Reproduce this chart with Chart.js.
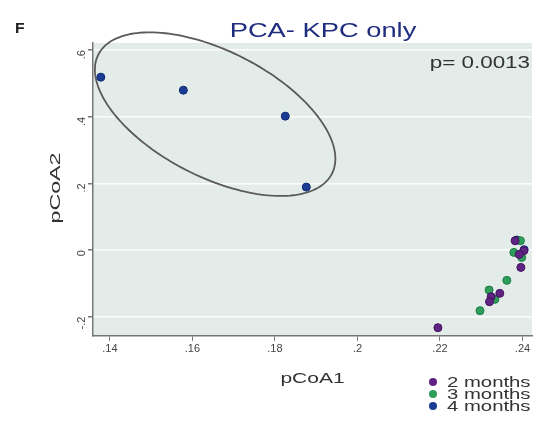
<!DOCTYPE html>
<html>
<head>
<meta charset="utf-8">
<title>PCA- KPC only</title>
<script src="https://cdn.jsdelivr.net/npm/chart.js@4.4.1/dist/chart.umd.min.js"></script>
<style>
  html, body { margin: 0; padding: 0; background: #fff; }
  #wrap { width: 537px; height: 426px; }
</style>
</head>
<body>
<div id="wrap"><canvas id="pca" width="537" height="426"></canvas></div>
<script>
// sample coordinates (pCoA1, pCoA2) by time point
var twoMonths = [
  [0.2382, 0.028], [0.2403, -0.002], [0.2392, -0.013], [0.2396, -0.052],
  [0.2345, -0.130], [0.2324, -0.140], [0.2320, -0.155], [0.2195, -0.233]
];
var threeMonths = [
  [0.2395, 0.028], [0.2379, -0.007], [0.2398, -0.022], [0.2362, -0.091],
  [0.2319, -0.120], [0.2333, -0.148], [0.2297, -0.182]
];
var fourMonths = [
  [0.1378, 0.519], [0.1578, 0.480], [0.1825, 0.402], [0.1876, 0.189],
  [0.2386, 0.030], [0.2404, 0.001]
];

var seriesNames = ["2 months", "3 months", "4 months"];
var xTicks = [0.14, 0.16, 0.18, 0.20, 0.22, 0.24];
var yTicks = [-0.2, 0, 0.2, 0.4, 0.6];
var pValue = "p= 0.0013";

// confidence ellipse around the 4 month group: centre and two semi-axis vectors (data units)
var ellipseCenter = [0.1655, 0.408];
var ellipseAxisA = [0.02834, -0.1781];
var ellipseAxisB = [-0.0068, -0.1691];

var colors = ["#5e2383", "#2e9e5b", "#1b3c94"];
var borders = ["#43125f", "#1f7a42", "#112a70"];

function toPoints(arr) {
  return arr.map(function(p) { return { x: p[0], y: p[1] }; });
}

// Stata style labels: .14, -.2, 0
function fmt(v) {
  if (v === 0) return "0";
  var s = String(+v.toFixed(2));
  return s.replace(/^(-?)0\./, "$1.");
}

function wideText(ctx, text, x, y, sx, align) {
  ctx.save();
  ctx.translate(x, y);
  ctx.scale(sx, 1);
  ctx.textAlign = align;
  ctx.fillText(text, 0, 0);
  ctx.restore();
}

var plotBackground = {
  id: "plotBackground",
  beforeDraw: function(chart) {
    var ctx = chart.ctx, a = chart.chartArea;
    ctx.save();
    ctx.fillStyle = "#ffffff";
    ctx.fillRect(0, 0, chart.width, chart.height);
    ctx.fillStyle = "#e4ecea";
    ctx.fillRect(a.left, a.top, a.right - a.left, a.bottom - a.top);
    ctx.restore();
  }
};

var ellipsePlugin = {
  id: "ellipse",
  beforeDatasetsDraw: function(chart) {
    var ctx = chart.ctx, xs = chart.scales.x, ys = chart.scales.y;
    ctx.save();
    ctx.strokeStyle = "#5a5a5a";
    ctx.lineWidth = 1.8;
    ctx.beginPath();
    for (var i = 0; i <= 180; i++) {
      var t = i / 180 * Math.PI * 2;
      var dx = ellipseCenter[0] + ellipseAxisA[0] * Math.cos(t) + ellipseAxisB[0] * Math.sin(t);
      var dy = ellipseCenter[1] + ellipseAxisA[1] * Math.cos(t) + ellipseAxisB[1] * Math.sin(t);
      var px = xs.getPixelForValue(dx), py = ys.getPixelForValue(dy);
      if (i === 0) ctx.moveTo(px, py); else ctx.lineTo(px, py);
    }
    ctx.closePath();
    ctx.stroke();
    ctx.restore();
  }
};

var annotations = {
  id: "annotations",
  afterDraw: function(chart) {
    var ctx = chart.ctx, a = chart.chartArea;
    ctx.save();
    ctx.textBaseline = "alphabetic";

    ctx.fillStyle = "#222";
    ctx.font = "bold 15px Arial, 'Liberation Sans', sans-serif";
    wideText(ctx, "F", 15, 33, 1.05, "left");

    ctx.fillStyle = "#1f2d7f";
    ctx.font = "21px Arial, 'Liberation Sans', sans-serif";
    wideText(ctx, "PCA- KPC only", 323, 37, 1.3, "center");

    ctx.fillStyle = "#333";
    ctx.font = "16px Arial, 'Liberation Sans', sans-serif";
    wideText(ctx, pValue, 530, 68, 1.4, "right");

    // axis titles
    ctx.fillStyle = "#333";
    ctx.font = "15px Arial, 'Liberation Sans', sans-serif";
    wideText(ctx, "pCoA1", (a.left + a.right) / 2, 383, 1.4, "center");
    ctx.save();
    ctx.translate(60, 188);
    ctx.rotate(-Math.PI / 2);
    ctx.font = "15px Arial, 'Liberation Sans', sans-serif";
    wideText(ctx, "pCoA2", 0, 0, 1.55, "center");
    ctx.restore();

    // legend
    ctx.font = "14px Arial, 'Liberation Sans', sans-serif";
    for (var i = 0; i < seriesNames.length; i++) {
      var y = 382 + i * 12;
      ctx.beginPath();
      ctx.arc(433, y, 4, 0, Math.PI * 2);
      ctx.fillStyle = colors[i];
      ctx.fill();
      ctx.fillStyle = "#333";
      wideText(ctx, seriesNames[i], 447, y + 5, 1.45, "left");
    }
    ctx.restore();
  }
};

var datasets = [twoMonths, threeMonths, fourMonths].map(function(arr, i) {
  return {
    label: seriesNames[i],
    data: toPoints(arr),
    backgroundColor: colors[i],
    borderColor: borders[i],
    borderWidth: 1,
    pointRadius: 4
  };
});

new Chart(document.getElementById("pca"), {
  type: "scatter",
  data: { datasets: datasets },
  options: {
    responsive: false,
    animation: false,
    layout: { padding: { top: 43, right: 2, left: 0, bottom: 0 } },
    plugins: {
      legend: { display: false },
      tooltip: { enabled: false },
      title: { display: false }
    },
    scales: {
      x: {
        type: "linear",
        min: 0.1359,
        max: 0.2423,
        afterBuildTicks: function(s) { s.ticks = xTicks.map(function(v) { return { value: v }; }); },
        afterFit: function(s) { s.height = 90; },
        ticks: {
          callback: function(v) { return fmt(v); },
          color: "#444",
          font: { size: 11, family: "Arial, 'Liberation Sans', sans-serif" },
          padding: 1,
          maxRotation: 0,
          autoSkip: false
        },
        grid: { drawOnChartArea: false, tickLength: 5, tickColor: "#777" },
        border: { color: "#777", width: 1.5 }
      },
      y: {
        type: "linear",
        min: -0.258,
        max: 0.6216,
        afterBuildTicks: function(s) { s.ticks = yTicks.map(function(v) { return { value: v }; }); },
        afterFit: function(s) { s.width = 93; },
        ticks: {
          callback: function(v) { return fmt(v); },
          color: "#444",
          font: { size: 11, family: "Arial, 'Liberation Sans', sans-serif" },
          padding: 6,
          minRotation: 90,
          maxRotation: 90,
          autoSkip: false
        },
        grid: { color: "rgba(255,255,255,0.9)", lineWidth: 1.5, tickLength: 5, tickColor: "#777" },
        border: { color: "#777", width: 1.5 }
      }
    }
  },
  plugins: [plotBackground, ellipsePlugin, annotations]
});
</script>
</body>
</html>
